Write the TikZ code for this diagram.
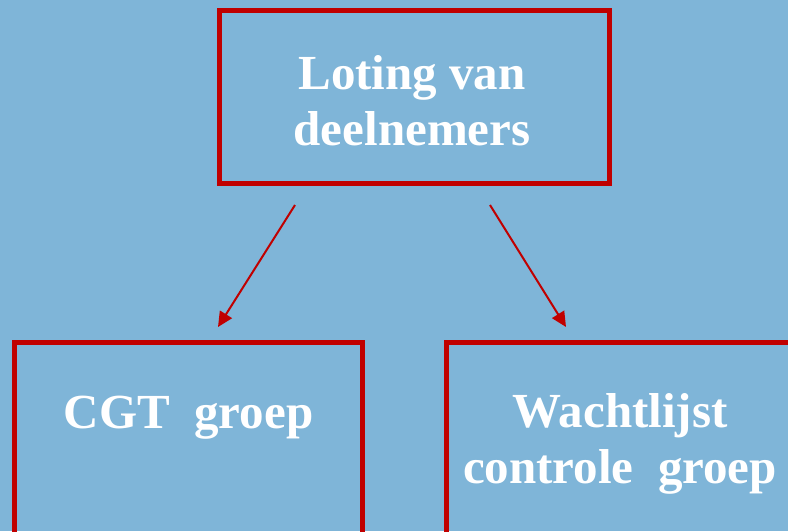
\documentclass[tikz,border=0pt]{standalone}
\usepackage{fontspec}
\setmainfont{Liberation Serif}
\usetikzlibrary{arrows.meta}
\definecolor{bgblue}{RGB}{127,181,216}
\definecolor{boxred}{RGB}{192,0,0}
\begin{document}
\begin{tikzpicture}[x=1pt,y=-1pt,
  box/.style={draw=boxred, line width=5pt, rectangle, inner sep=0pt},
  lbl/.style={text=white, font=\bfseries\fontsize{49}{56}\selectfont, align=center, inner sep=0pt},
  arr/.style={draw=boxred, line width=2pt, -{Triangle[length=15pt,width=14pt]}}]
\useasboundingbox (0,0) rectangle (788,531);
\clip (0,0) rectangle (788,531);
\fill[bgblue] (0,0) rectangle (788,531);
\node[box, minimum width=390.5pt, minimum height=173pt] (top) at (414.25,96.5) {};
\node[lbl, anchor=base] (toptext) at (412,145) {Loting van\\deelnemers};
\node[box, minimum width=348pt, minimum height=260pt, anchor=north] (cgt) at (188.5,340) {};
\node[lbl, anchor=base] (cgttext) at (188.5,428) {CGT\ \ groep};
\node[box, minimum width=348pt, minimum height=260pt, anchor=north] (wl) at (620,340) {};
\node[lbl, anchor=base] (wltext) at (620,483) {Wachtlijst\\controle\ \ groep};
\coordinate (s1) at (295,205);
\coordinate (e1) at (218,327);
\coordinate (s2) at (490,205);
\coordinate (e2) at (566,327);
\draw[arr] (s1) -- (e1);
\draw[arr] (s2) -- (e2);
\end{tikzpicture}
\end{document}
